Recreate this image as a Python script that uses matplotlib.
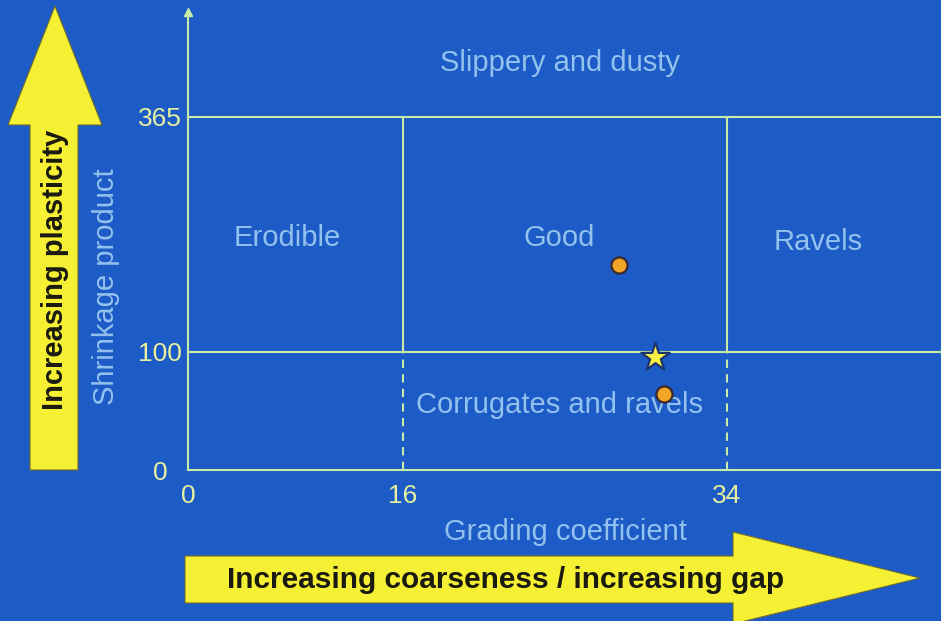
import numpy as np
import matplotlib.pyplot as plt
from matplotlib.patches import Polygon

plt.rcParams['font.family'] = ['Liberation Sans', 'DejaVu Sans']

# chart values
x_ticks = [0, 16, 34]
y_ticks = [0, 100, 365]
x_max = 45.9
y_max = 483

regions = ["Slippery and dusty", "Erodible", "Good", "Ravels", "Corrugates and ravels"]
region_x = [24.7, 7.4, 24.7, 39.1, 24.7]
region_y = [426, 228, 228, 224, 55]

dot_x = [28.0, 30.5]
dot_y = [198, 64]
star_x = [30.0]
star_y = [96]

BG = "#1d5bc6"
LINE = "#c8eca8"
TICK = "#e6f0a0"
LABEL = "#93c2ee"
YELLOW = "#f6f034"

# schematic (piecewise linear) axis scales
xs_data = [0, 16, 34, 60]
xs_disp = [0, 215, 539, 1007]
ys_data = [0, 100, 365, 1000]
ys_disp = [0, 118, 353, 916]


def fx(v):
    return np.interp(v, xs_data, xs_disp)


def ix(v):
    return np.interp(v, xs_disp, xs_data)


def fy(v):
    return np.interp(v, ys_data, ys_disp)


def iy(v):
    return np.interp(v, ys_disp, ys_data)


W, H = 941, 621
fig = plt.figure(figsize=(W / 100, H / 100), dpi=100, facecolor=BG)

# overlay for the big arrows (pixel coords)
deco = fig.add_axes([0, 0, 1, 1], zorder=0)
deco.set_xlim(0, W)
deco.set_ylim(H, 0)
deco.axis("off")

up = Polygon([(30, 470), (30, 125), (8, 125), (55, 6), (102, 125), (78, 125), (78, 470)],
             closed=True, fc=YELLOW, ec="#6a6a30", lw=0.8)
deco.add_patch(up)
right = Polygon([(185, 556), (733, 556), (733, 532), (920, 578), (733, 624), (733, 603), (185, 603)],
                closed=True, fc=YELLOW, ec="#6a6a30", lw=0.8)
deco.add_patch(right)
deco.text(55, 270, "Increasing plasticity", rotation=90, ha="center", va="center",
          fontsize=21, fontweight="bold", color="#1a1a10")
deco.text(506, 580, "Increasing coarseness / increasing gap", ha="center", va="center",
          fontsize=21.5, fontweight="bold", color="#1a1a10")
deco.text(106, 287, "Shrinkage product", rotation=90, ha="center", va="center",
          fontsize=21, color=LABEL)
deco.text(565, 532, "Grading coefficient", ha="center", va="center",
          fontsize=21, color=LABEL)

# main chart
ax = fig.add_axes([188 / W, (H - 470) / H, 1 - 188 / W, (470 - 12) / H], zorder=1)
ax.set_facecolor("none")
ax.set_xscale("function", functions=(fx, ix))
ax.set_yscale("function", functions=(fy, iy))
ax.set_xlim(0, x_max)
ax.set_ylim(0, y_max)

for s in ["top", "right"]:
    ax.spines[s].set_visible(False)
for s in ["left", "bottom"]:
    ax.spines[s].set_color(LINE)
    ax.spines[s].set_linewidth(1.5)
ax.plot([0], [1], marker="^", ms=6, color=LINE, transform=ax.transAxes, clip_on=False)

ax.set_xticks(x_ticks)
ax.set_xticklabels([str(t) for t in x_ticks])
ax.set_yticks(y_ticks)
ax.set_yticklabels([str(t) for t in y_ticks], ha="center")
ax.xaxis.set_minor_locator(plt.NullLocator())
ax.yaxis.set_minor_locator(plt.NullLocator())
ax.tick_params(length=0, labelsize=19, labelcolor=TICK)
ax.tick_params(axis="x", pad=10)
ax.tick_params(axis="y", pad=20)

# boundary lines
for yv in y_ticks[1:]:
    ax.axhline(yv, color=LINE, lw=1.5)
for xv in x_ticks[1:]:
    ax.plot([xv, xv], [y_ticks[1], y_ticks[2]], color=LINE, lw=1.5)
    ax.plot([xv, xv], [y_ticks[0], y_ticks[1]], color=LINE, lw=1.5, ls=(0, (4, 3)))

for name, rx, ry in zip(regions, region_x, region_y):
    ax.text(rx, ry, name, ha="center", va="center", fontsize=21, color=LABEL)

ax.scatter(dot_x, dot_y, s=135, c="#f2a526", edgecolors="#3a2a30", linewidths=1.6, zorder=5)
ax.scatter(star_x, star_y, s=460, marker="*", c="#f8f040", edgecolors="#1a3470",
           linewidths=1.6, zorder=5)

fig.savefig("out.png", dpi=100, facecolor=BG)
